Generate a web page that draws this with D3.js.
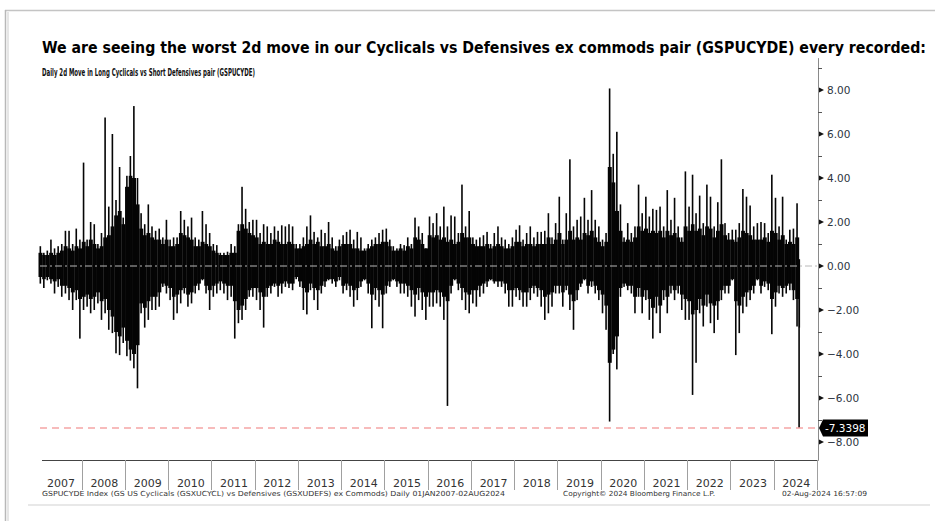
<!DOCTYPE html>
<html><head><meta charset="utf-8">
<script src="https://cdn.jsdelivr.net/npm/d3@7"></script>
<style>html,body{margin:0;padding:0;background:#fff;}svg{display:block;}</style>
</head><body>
<svg id="c" width="935" height="521"></svg>
<script>
// ---------- DATA ----------
const titleText = "We are seeing the worst 2d move in our Cyclicals vs Defensives ex commods pair (GSPUCYDE) every recorded:";
const subtitleText = "Daily 2d Move in Long Cyclicals vs Short Defensives pair (GSPUCYDE)";
const years = [2007,2008,2009,2010,2011,2012,2013,2014,2015,2016,2017,2018,2019,2020,2021,2022,2023,2024];
const yTicks = [8,6,4,2,0,-2,-4,-6,-8];
const yMinorTicks = [9,7,5,3,1,-1,-3,-5,-7];
const lastValue = -7.3398;
// monthly highest 2d move, Jan 2007 .. Aug 2024
const monthHi = [
 0.9,0.6,0.7,1.2,0.8,0.9,1.0,1.6,1.6,1.0,1.7,1.2,
 4.7,1.2,2.0,1.9,1.0,1.5,6.75,2.7,6.0,3.0,4.5,2.2,
 4.1,5.0,7.27,4.0,2.4,1.9,2.8,1.8,1.6,1.7,1.3,2.1,
 1.2,1.3,1.3,2.5,2.1,1.8,2.2,1.3,1.2,2.5,1.9,1.5,
 1.0,0.95,0.6,0.6,0.65,1.0,0.9,1.9,3.6,2.6,2.0,2.1,
 2.1,1.5,1.9,1.8,1.5,1.8,1.6,1.85,1.8,1.9,1.8,1.0,
 1.0,1.3,1.8,2.3,1.55,1.3,1.65,1.5,2.0,1.3,0.9,1.2,
 1.4,1.55,1.65,1.2,1.55,1.3,0.8,1.0,1.2,1.3,1.5,1.65,
 1.7,1.2,0.9,0.8,1.0,0.95,1.3,1.0,2.2,1.8,1.5,0.8,
 2.25,1.95,2.4,1.8,2.7,1.8,2.3,2.25,1.5,3.7,1.8,2.5,
 1.3,1.2,1.3,1.4,1.55,1.0,1.5,1.8,1.3,1.2,1.0,1.3,
 1.65,1.85,1.2,1.5,1.8,1.3,1.55,1.55,1.6,2.4,1.3,1.95,
 3.15,1.2,2.4,4.85,1.8,2.1,2.25,3.1,2.1,3.45,2.1,1.8,
 1.2,1.5,8.07,5.1,6.1,2.8,1.3,1.95,1.5,1.8,3.7,2.4,
 3.15,2.25,2.6,2.55,2.7,1.8,3.45,2.1,3.1,1.8,1.3,4.3,
 2.7,4.15,2.4,3.2,1.95,3.7,3.15,1.8,2.9,4.85,1.95,1.5,
 1.65,1.65,1.95,3.5,3.15,2.75,1.8,1.95,2.0,1.95,1.5,4.15,
 3.1,1.8,3.15,1.2,1.65,1.7,2.85,0.3
];
// monthly lowest 2d move
const monthLo = [
 -0.8,-1.0,-0.65,-0.8,-1.25,-0.95,-1.4,-1.25,-1.55,-2.0,-1.55,-3.3,
 -2.0,-1.85,-2.15,-2.0,-1.7,-2.45,-2.15,-2.9,-3.05,-3.97,-4.05,-3.5,
 -4.1,-4.3,-4.65,-5.56,-2.15,-2.8,-2.45,-2.0,-2.0,-1.85,-0.95,-1.25,
 -1.55,-2.45,-2.15,-1.7,-1.25,-1.85,-1.7,-1.25,-1.1,-0.65,-1.25,-2.0,
 -1.4,-1.25,-1.1,-1.25,-1.55,-1.4,-3.3,-2.6,-2.45,-2.0,-1.4,-1.4,
 -1.55,-2.0,-2.8,-1.4,-1.25,-0.95,-1.4,-1.25,-0.95,-1.0,-1.1,-0.6,
 -0.95,-2.0,-2.2,-1.1,-1.55,-2.0,-1.25,-0.95,-0.65,-0.8,-0.95,-0.65,
 -1.25,-1.1,-1.4,-1.85,-1.55,-0.95,-0.65,-1.25,-2.83,-1.55,-1.85,-2.83,
 -1.25,-0.95,-0.65,-0.95,-1.25,-1.25,-1.4,-1.85,-2.3,-1.55,-2.0,-2.45,
 -1.85,-1.85,-1.7,-1.85,-2.45,-6.36,-1.25,-0.65,-1.1,-1.55,-2.0,-2.15,
 -1.7,-1.85,-1.4,-1.25,-0.95,-0.65,-0.8,-0.95,-0.95,-1.25,-1.85,-1.85,
 -1.4,-1.55,-1.85,-1.85,-1.55,-1.25,-1.4,-1.85,-2.45,-2.15,-1.85,-1.25,
 -1.25,-1.85,-1.1,-2.0,-2.9,-1.55,-0.95,-0.65,-1.25,-0.95,-1.25,-1.55,
 -2.15,-2.9,-7.07,-4.0,-4.7,-1.4,-0.95,-1.1,-1.25,-2.15,-1.4,-2.15,
 -1.55,-2.45,-3.3,-2.15,-3.05,-1.55,-2.15,-1.25,-1.55,-1.25,-2.0,-2.45,
 -2.45,-5.86,-4.4,-2.15,-2.75,-1.85,-2.6,-3.05,-2.45,-1.55,-1.25,-1.25,
 -0.65,-4.05,-3.05,-2.15,-1.85,-1.55,-1.25,-0.65,-1.25,-0.95,-1.1,-3.1,
 -1.85,-1.25,-1.4,-1.25,-1.1,-1.55,-2.75,-7.3398
];
// monthly level of the dense black body (upper / lower)
const bodyHi = [
 0.6,0.5,0.5,0.6,0.5,0.6,0.7,0.9,0.8,0.7,0.9,0.8,
 1.1,0.9,1.2,1.0,0.8,0.9,1.3,1.4,1.8,2.3,2.5,1.9,
 3.6,4.1,4.0,2.8,1.7,1.4,1.5,1.3,1.2,1.2,1.0,1.2,
 0.9,0.9,1.0,1.5,1.4,1.3,1.2,0.9,0.9,1.1,1.0,0.9,
 0.7,0.6,0.5,0.5,0.5,0.6,0.6,1.6,1.9,1.7,1.5,1.4,
 1.3,1.0,1.1,1.0,1.0,1.2,1.1,1.0,1.0,1.1,1.0,0.8,
 0.8,0.9,1.0,1.2,1.0,1.1,0.9,0.9,1.0,0.8,0.7,0.9,
 1.0,1.0,1.0,0.8,0.8,0.7,0.7,0.8,0.9,1.0,1.0,1.1,
 1.1,0.9,0.7,0.7,0.8,0.7,0.9,0.8,1.3,1.2,1.0,0.8,
 1.4,1.3,1.4,1.2,1.3,1.1,1.2,1.0,1.1,1.5,1.3,1.3,
 1.0,0.9,0.9,0.9,1.0,0.8,0.9,1.0,0.9,0.8,0.8,0.9,
 1.1,1.1,0.9,1.0,1.0,0.9,1.0,1.0,1.0,1.3,1.0,1.2,
 1.5,1.0,1.2,1.6,1.2,1.3,1.2,1.5,1.4,1.6,1.3,1.1,
 0.9,1.1,4.5,3.8,2.5,1.6,1.1,1.2,1.1,1.3,1.8,1.6,
 1.7,1.5,1.6,1.5,1.6,1.3,1.6,1.4,1.5,1.3,1.1,1.8,
 1.6,1.9,1.6,1.7,1.4,1.8,1.7,1.3,1.6,1.9,1.4,1.2,
 1.2,1.1,1.3,1.6,1.5,1.4,1.2,1.2,1.2,1.3,1.1,1.6,
 1.5,1.2,1.4,1.0,1.1,1.0,1.3,0.3
];
const bodyLo = [
 -0.5,-0.6,-0.5,-0.6,-0.7,-0.6,-0.9,-0.9,-1.0,-1.2,-1.1,-1.5,
 -1.4,-1.3,-1.5,-1.4,-1.2,-1.6,-1.5,-2.0,-2.3,-3.0,-3.2,-2.8,
 -3.4,-3.8,-4.0,-3.6,-1.7,-1.9,-1.6,-1.4,-1.4,-1.2,-0.8,-0.9,
 -1.0,-1.4,-1.3,-1.1,-1.0,-1.3,-1.2,-0.9,-0.8,-0.6,-0.9,-1.1,
 -0.9,-0.8,-0.7,-0.8,-0.9,-0.9,-1.6,-2.0,-1.8,-1.5,-1.1,-1.0,
 -1.0,-1.2,-1.4,-1.0,-0.9,-0.8,-0.9,-0.8,-0.7,-0.8,-0.8,-0.5,
 -0.7,-1.0,-1.2,-0.8,-1.0,-1.1,-0.9,-0.7,-0.6,-0.6,-0.7,-0.5,
 -0.9,-0.8,-0.9,-1.1,-1.0,-0.7,-0.6,-0.8,-1.3,-1.0,-1.1,-1.3,
 -0.9,-0.7,-0.6,-0.7,-0.8,-0.8,-0.9,-1.1,-1.3,-1.0,-1.2,-1.4,
 -1.2,-1.2,-1.1,-1.2,-1.4,-1.6,-0.9,-0.6,-0.8,-1.0,-1.2,-1.3,
 -1.1,-1.1,-0.9,-0.8,-0.7,-0.6,-0.7,-0.7,-0.7,-0.8,-1.1,-1.1,
 -1.0,-1.1,-1.2,-1.2,-1.0,-0.9,-1.0,-1.1,-1.4,-1.3,-1.2,-0.9,
 -0.9,-1.2,-0.9,-1.3,-1.6,-1.1,-0.8,-0.6,-0.9,-0.7,-0.9,-1.1,
 -1.3,-1.8,-4.4,-3.8,-3.2,-1.0,-0.8,-0.9,-0.9,-1.4,-1.0,-1.4,
 -1.1,-1.5,-1.9,-1.4,-1.8,-1.1,-1.4,-0.9,-1.1,-0.9,-1.3,-1.5,
 -1.6,-2.2,-2.0,-1.5,-1.8,-1.3,-1.7,-1.8,-1.6,-1.1,-0.9,-0.9,
 -0.6,-1.6,-1.8,-1.4,-1.2,-1.1,-0.9,-0.6,-0.9,-0.7,-0.8,-1.5,
 -1.2,-0.9,-1.0,-0.9,-0.8,-1.1,-1.5,-2.8
];
const startDate = new Date(2007,0,1), endDate = new Date(2024,7,3);

// ---------- CHART ----------
const svg = d3.select("#c");
const x = d3.scaleTime().domain([new Date(2007,0,1), new Date(2025,0,1)]).range([38.5, 817]);
const y = d3.scaleLinear().domain([-8, 8]).range([442, 90]);
const axisX = 818, plotBottom = 460;

// frame
svg.append("line").attr("x1",5).attr("x2",935).attr("y1",10.5).attr("y2",10.5).attr("stroke","#c4c4c4").attr("stroke-width",1.5);
svg.append("line").attr("x1",5.5).attr("x2",5.5).attr("y1",10).attr("y2",521).attr("stroke","#b8b8b8").attr("stroke-width",1.5);
svg.append("line").attr("x1",8).attr("x2",8).attr("y1",12).attr("y2",521).attr("stroke","#e6e6e6").attr("stroke-width",2);
svg.append("line").attr("x1",28).attr("x2",930).attr("y1",505).attr("y2",505).attr("stroke","#e8e8e8").attr("stroke-width",2);

// titles
svg.append("text").attr("x",42).attr("y",53).text(titleText)
  .attr("font-family","'Liberation Sans Narrow','Arial Narrow','DejaVu Sans Condensed',sans-serif")
  .attr("font-weight","bold").attr("font-size",15.5).attr("fill","#000")
  .attr("textLength",884).attr("lengthAdjust","spacingAndGlyphs");
svg.append("text").attr("x",42).attr("y",76).text(subtitleText)
  .attr("font-family","'Liberation Sans Narrow','DejaVu Sans Condensed',sans-serif")
  .attr("font-weight","bold").attr("font-size",11).attr("fill","#111")
  .attr("textLength",213).attr("lengthAdjust","spacingAndGlyphs");

const months = d3.timeMonth.range(startDate, endDate);
const mEnd = d => d3.min([d3.timeMonth.offset(d,1), endDate]);

// dense body per month
svg.append("g").selectAll("rect").data(months).join("rect")
  .attr("x", d => x(d))
  .attr("width", d => Math.max(1.2, x(mEnd(d)) - x(d) + 0.3))
  .attr("y", (d,i) => y(bodyHi[i]))
  .attr("height", (d,i) => y(bodyLo[i]) - y(bodyHi[i]))
  .attr("fill","#050505");

// monthly extreme spikes
const spikeW = 1.6;
svg.append("g").selectAll("rect").data(months).join("rect")
  .attr("x", (d,i) => {
    const w = x(mEnd(d)) - x(d);
    return i === months.length-1 ? x(d) - 0.6 : x(d) + (w - spikeW)/2;
  })
  .attr("width", spikeW)
  .attr("y", (d,i) => y(monthHi[i]))
  .attr("height", (d,i) => y(monthLo[i]) - y(monthHi[i]))
  .attr("fill","#050505");

// zero line
svg.append("line").attr("x1",40).attr("x2",axisX).attr("y1",y(0)).attr("y2",y(0))
  .attr("stroke","#b8b8b8").attr("stroke-width",1).attr("stroke-dasharray","7,3,2,3");

// red dashed line
svg.append("line").attr("x1",40).attr("x2",axisX).attr("y1",y(lastValue)+0.5).attr("y2",y(lastValue)+0.5)
  .attr("stroke","#f07878").attr("stroke-width",1.2).attr("stroke-dasharray","7,5");

// y axis
svg.append("line").attr("x1",axisX+0.5).attr("x2",axisX+0.5).attr("y1",y(9.45)).attr("y2",plotBottom)
  .attr("stroke","#8a8a8a").attr("stroke-width",1);
const gy = svg.append("g");
gy.selectAll(".minor").data(yMinorTicks).join("line").attr("class","minor")
  .attr("x1",axisX).attr("x2",axisX+4).attr("y1",d=>y(d)+0.5).attr("y2",d=>y(d)+0.5)
  .attr("stroke","#555").attr("stroke-width",1);
gy.selectAll(".major").data(yTicks).join("path").attr("class","major")
  .attr("d", d => `M${axisX+1},${y(d)-2.5} L${axisX+6},${y(d)} L${axisX+1},${y(d)+2.5} Z`)
  .attr("fill","#111");
gy.selectAll("text").data(yTicks).join("text")
  .attr("x", axisX+9).attr("y", d => y(d)+4)
  .text(d => d3.format(".2f")(d))
  .attr("font-family","'DejaVu Sans',sans-serif").attr("font-size",10.5).attr("fill","#2c3440");

// last value label
const ly = y(lastValue);
svg.append("path")
  .attr("d", `M${axisX+1},${ly+0.5} L${axisX+5},${ly-8} L${axisX+50},${ly-8} L${axisX+50},${ly+9} L${axisX+5},${ly+9} Z`)
  .attr("fill","#000");
svg.append("text").attr("x",axisX+7).attr("y",ly+5).text(lastValue.toFixed(4))
  .attr("font-family","'DejaVu Sans',sans-serif").attr("font-size",10.5).attr("fill","#fff");

// x axis
svg.append("line").attr("x1",42).attr("x2",axisX+0.5).attr("y1",plotBottom+0.5).attr("y2",plotBottom+0.5)
  .attr("stroke","#444").attr("stroke-width",1.2);
const gx = svg.append("g");
const seps = years.slice(1).map(yv => new Date(yv,0,1)).concat([new Date(2025,0,1)]);
gx.selectAll("line").data(seps).join("line")
  .attr("x1", d => Math.round(x(d))+0.5).attr("x2", d => Math.round(x(d))+0.5)
  .attr("y1", plotBottom).attr("y2", 490).attr("stroke","#a0a0a0").attr("stroke-width",1);
gx.selectAll("text").data(years).join("text")
  .attr("x", d => (x(new Date(d,0,1)) + x(new Date(d+1,0,1)))/2 + 1)
  .attr("y", 487).attr("text-anchor","middle").text(d => d)
  .attr("font-family","'DejaVu Sans',sans-serif").attr("font-size",11).attr("fill","#333");

// footnotes
const foot = [
  {t:"GSPUCYDE Index (GS US Cyclicals (GSXUCYCL) vs Defensives (GSXUDEFS) ex Commods)  Daily 01JAN2007-02AUG2024", x:42, w:463},
  {t:"Copyright\u00A9 2024 Bloomberg Finance L.P.", x:563, w:152},
  {t:"02-Aug-2024 16:57:09", x:782, w:85}
];
svg.append("g").selectAll("text").data(foot).join("text")
  .attr("x", d=>d.x).attr("y", 496).text(d=>d.t)
  .attr("font-family","'DejaVu Sans',sans-serif").attr("font-size",7).attr("fill","#333")
  .attr("textLength", d=>d.w).attr("lengthAdjust","spacingAndGlyphs");
</script>
</body></html>
